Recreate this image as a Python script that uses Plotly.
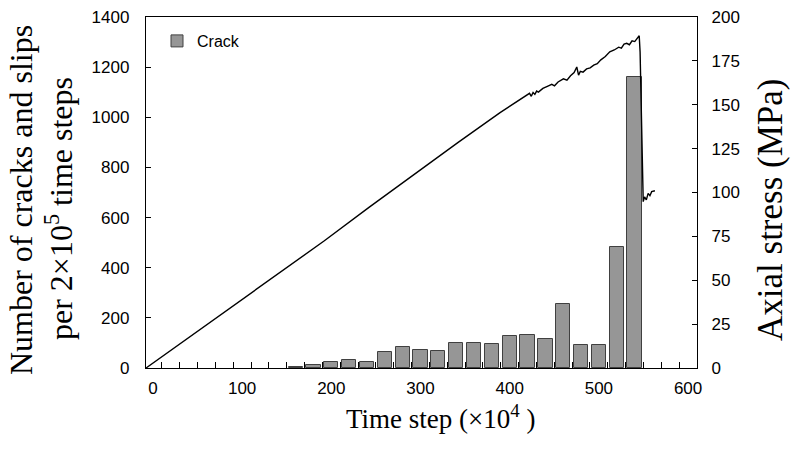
import plotly.graph_objects as go

# ---- data ----
bar_time = [160, 180, 200, 220, 240, 260, 280, 300, 320, 340, 360, 380, 400,
            420, 440, 460, 480, 500, 520, 540]
crack_counts = [3, 11, 24, 32, 24, 62, 82, 70, 66, 101, 98, 96, 129,
                133, 114, 257, 90, 90, 481, 1159]

stress_time = [0, 20, 50, 75, 100, 139, 200, 250, 307, 350, 397, 420, 430,
               432, 434, 436, 438, 440, 445, 450, 455, 458, 462, 468, 472,
               476, 480, 483, 485, 487, 490, 494, 498, 502, 506, 510, 515,
               520, 525, 530, 533, 536, 539, 542, 545, 548, 550, 553, 554,
               557.5, 559, 561, 563, 565, 567, 570.6]
stress_mpa = [0, 7.2, 18.2, 27.4, 36.2, 50.1, 72.5, 91.5, 112.8, 128.6, 145.5,
              153.5, 156.5, 154.8, 157.0, 155.9, 157.8, 157.2, 159.3, 160.5,
              161.6, 160.8, 163.0, 164.8, 164.0, 166.5, 168.4, 171.5, 166.9,
              169.0, 168.6, 170.4, 171.0, 172.6, 173.4, 175.6, 177.5, 180.2,
              181.2, 182.8, 182.2, 184.6, 185.0, 184.2, 186.4, 186.0, 187.6,
              189.3, 180.0, 94.8, 97.5, 95.8, 99.5, 98.2, 100.5, 101.0]

x_ticks = [0, 100, 200, 300, 400, 500, 600]
left_ticks = [0, 200, 400, 600, 800, 1000, 1200, 1400]
right_ticks = [0, 25, 50, 75, 100, 125, 150, 175, 200]

SANS = "Liberation Sans, Arial, sans-serif"
SERIF = "Liberation Serif, Times New Roman, serif"

fig = go.Figure()
fig.add_trace(go.Bar(
    x=bar_time, y=crack_counts, name="Crack", width=16,
    marker=dict(color="#969696", line=dict(color="#404040", width=1)),
    xaxis="x", yaxis="y",
))
fig.add_trace(go.Scatter(
    x=stress_time, y=stress_mpa, mode="lines", showlegend=False,
    line=dict(color="black", width=1.4),
    xaxis="x2", yaxis="y2",
))

L, R, T, B = 146, 96, 17, 85
W, H = 793, 453
pw = W - L - R
ph = H - T - B

def px(x):
    return (x - L) / pw

def py(y):
    return 1 - (y - T) / ph

fig.update_layout(
    width=W, height=H,
    margin=dict(l=L, r=R, t=T, b=B, autoexpand=False),
    plot_bgcolor="white", paper_bgcolor="white",
    font=dict(family=SANS, size=17, color="black"),
    bargap=0,
    xaxis=dict(
        range=[-7.8, 610], tickvals=x_ticks, ticks="", showgrid=False,
        zeroline=False, showline=True, linecolor="black", linewidth=1.3,
        mirror=True, automargin=False, ticklabelstandoff=4,
        minor=dict(ticks="inside", tick0=10, dtick=20, ticklen=6,
                   tickcolor="black", tickwidth=1, showgrid=False),
        tickfont=dict(family=SANS, size=17),
    ),
    xaxis2=dict(range=[0, 617.8], overlaying="x", visible=False),
    yaxis=dict(
        range=[0, 1400], tickvals=left_ticks, ticks="inside", ticklen=5,
        tickcolor="black", showgrid=False, zeroline=False, showline=True,
        linecolor="black", linewidth=1.3, automargin=False,
        ticklabelstandoff=12,
        tickfont=dict(family=SANS, size=17),
    ),
    yaxis2=dict(
        range=[0, 200], tickvals=right_ticks, ticks="inside", ticklen=5,
        tickcolor="black", showgrid=False, zeroline=False, showline=True,
        linecolor="black", linewidth=1.3, overlaying="y", side="right",
        automargin=False, ticklabelstandoff=10,
        tickfont=dict(family=SANS, size=17),
    ),
    legend=dict(x=px(157), y=py(24), xanchor="left", yanchor="top",
                bgcolor="rgba(0,0,0,0)", font=dict(family=SANS, size=16),
                itemwidth=30),
    annotations=[
        dict(text="Number of cracks and slips", textangle=-90,
             xref="paper", yref="paper", x=px(21), y=py(200),
             xanchor="center", yanchor="middle", showarrow=False,
             font=dict(family=SERIF, size=32)),
        dict(text="per 2×10<sup>5</sup> time steps", textangle=-90,
             xref="paper", yref="paper", x=px(59), y=py(209),
             xanchor="center", yanchor="middle", showarrow=False,
             font=dict(family=SERIF, size=32)),
        dict(text="Axial stress (MPa)", textangle=-90,
             xref="paper", yref="paper", x=px(770), y=py(210),
             xanchor="center", yanchor="middle", showarrow=False,
             font=dict(family=SERIF, size=35)),
        dict(text="Time step (×10<sup>4</sup> )",
             xref="paper", yref="paper", x=px(440), y=py(417),
             xanchor="center", yanchor="middle", showarrow=False,
             font=dict(family=SERIF, size=27)),
    ],
)

fig.write_html(
    "out.html",
    config={"displayModeBar": False},
    post_script="document.body.style.margin='0';"
                "document.body.style.overflow='hidden';",
)
